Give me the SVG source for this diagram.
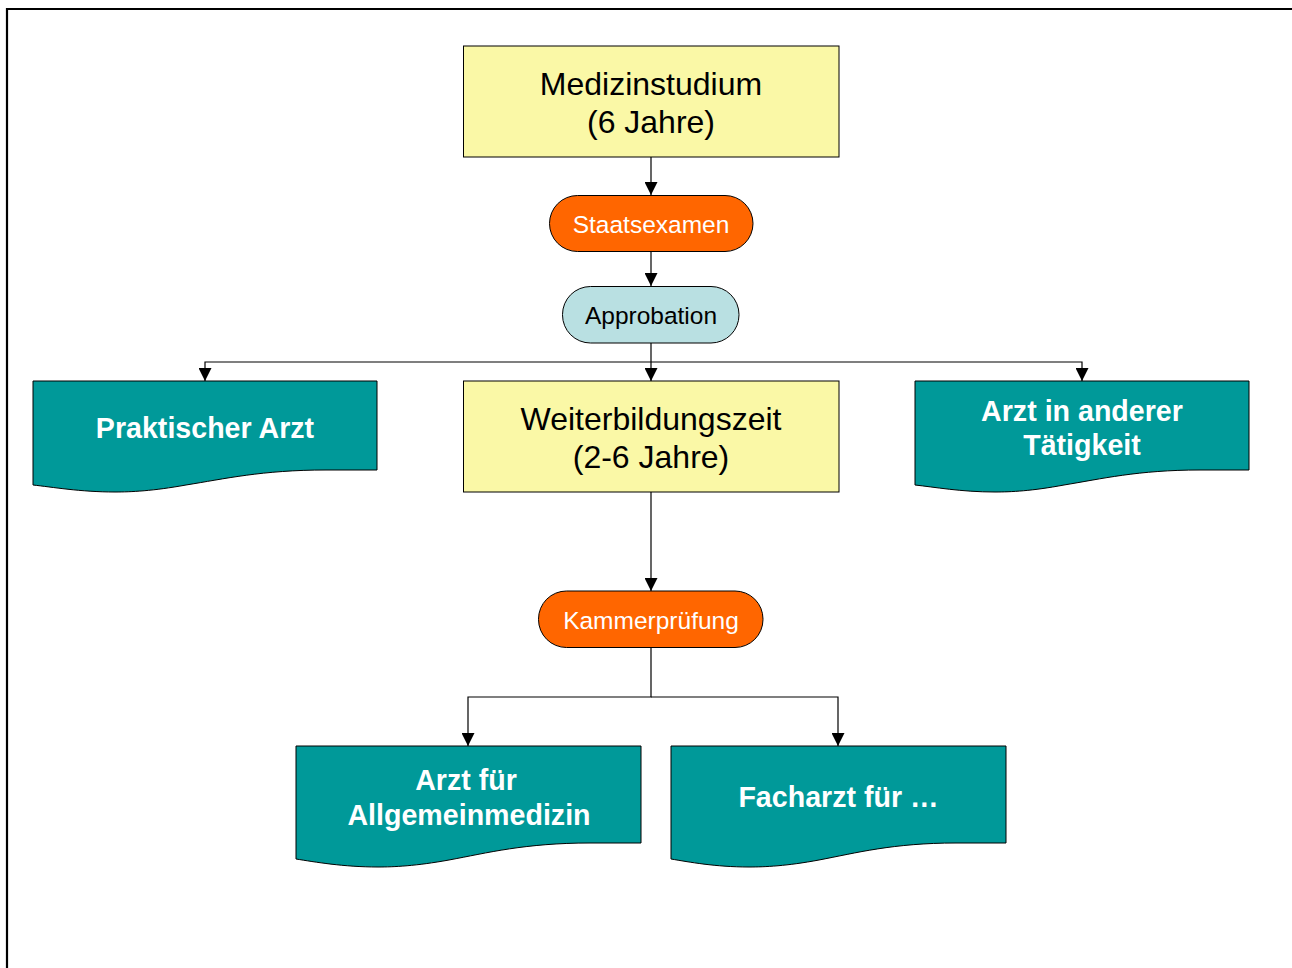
<svg xmlns="http://www.w3.org/2000/svg" width="1292" height="968" viewBox="0 0 1292 968">
<defs>
<marker id="arr" viewBox="0 0 12 12" refX="12" refY="6" markerWidth="13" markerHeight="13" markerUnits="userSpaceOnUse" orient="auto">
<path d="M0,0 L12,6 L0,12 Z" fill="#000"/>
</marker>
<style>
.frame{fill:none;stroke:#000;stroke-width:2.2}
.yel{fill:#FAF8A6;stroke:#000;stroke-width:1}
.org{fill:#FF6600;stroke:#000;stroke-width:1}
.blu{fill:#B9E0E2;stroke:#000;stroke-width:1}
.doc{fill:#009999;stroke:#000;stroke-width:1}
.con{fill:none;stroke:#000;stroke-width:1.2}
text{font-family:"Liberation Sans",Arial,sans-serif;text-anchor:middle}
.big{font-size:32px;fill:#000}
.mid{font-size:24.5px}
.wt{fill:#fff}
.bk{fill:#000}
.bold{font-size:28.6px;font-weight:bold;fill:#fff}
</style>
</defs>
<rect width="1292" height="968" fill="#fff"/>
<path class="frame" d="M7,968 V9 H1292"/>

<g id="connectors">
<path class="con" d="M651,157 V195" marker-end="url(#arr)"/>
<path class="con" d="M651,252 V286" marker-end="url(#arr)"/>
<path class="con" d="M651,343 V381" marker-end="url(#arr)"/>
<path class="con" d="M651,362 H205 V381" marker-end="url(#arr)"/>
<path class="con" d="M651,362 H1082 V381" marker-end="url(#arr)"/>
<path class="con" d="M651,492 V591" marker-end="url(#arr)"/>
<path class="con" d="M651,648 V697 H468 V746" marker-end="url(#arr)"/>
<path class="con" d="M651,697 H838 V746" marker-end="url(#arr)"/>
</g>

<g id="medizinstudium">
<rect class="yel" x="463.5" y="46" width="375.5" height="111"/>
<text class="big" x="651" y="95">Medizinstudium</text>
<text class="big" x="651" y="133">(6 Jahre)</text>
</g>

<g id="staatsexamen">
<rect class="org" x="549.5" y="195.5" width="203.5" height="56" rx="28"/>
<text class="mid wt" x="651" y="232.5">Staatsexamen</text>
</g>

<g id="approbation">
<rect class="blu" x="562.5" y="286.5" width="176.5" height="56.5" rx="28"/>
<text class="mid bk" x="651" y="323.5">Approbation</text>
</g>

<g id="praktischer-arzt">
<path class="doc" d="M33,381 H377 V470 H326 C262,470 224,479 186,485 C153,491 131,492 115,492 C80,492 52,487 33,485 Z"/>
<text class="bold" x="205" y="438">Praktischer Arzt</text>
</g>

<g id="weiterbildungszeit">
<rect class="yel" x="463.5" y="381" width="375.5" height="111"/>
<text class="big" x="651" y="430">Weiterbildungszeit</text>
<text class="big" x="651" y="468">(2-6 Jahre)</text>
</g>

<g id="arzt-anderer">
<path class="doc" d="M915,381 H1249 V470 H1200 C1138,470 1101,479 1064,485 C1032,491 1011,492 995,492 C961,492 934,487 915,485 Z"/>
<text class="bold" x="1082" y="421">Arzt in anderer</text>
<text class="bold" x="1082" y="455">Tätigkeit</text>
</g>

<g id="kammerpruefung">
<rect class="org" x="538.5" y="591" width="224.5" height="56.5" rx="28"/>
<text class="mid wt" x="651" y="629">Kammerprüfung</text>
</g>

<g id="arzt-allgemeinmedizin">
<path class="doc" d="M296,746 H641 V843 H590 C525,843 487,853 449,860 C416,866 394,867 378,867 C343,867 315,862 296,859 Z"/>
<text class="bold" x="466" y="790">Arzt für</text>
<text class="bold" x="469" y="825">Allgemeinmedizin</text>
</g>

<g id="facharzt">
<path class="doc" d="M671,746 H1006 V843 H956 C893,843 856,853 819,860 C787,866 765,867 749,867 C715,867 689,862 671,859 Z"/>
<text class="bold" x="838.5" y="807">Facharzt für …</text>
</g>
</svg>
